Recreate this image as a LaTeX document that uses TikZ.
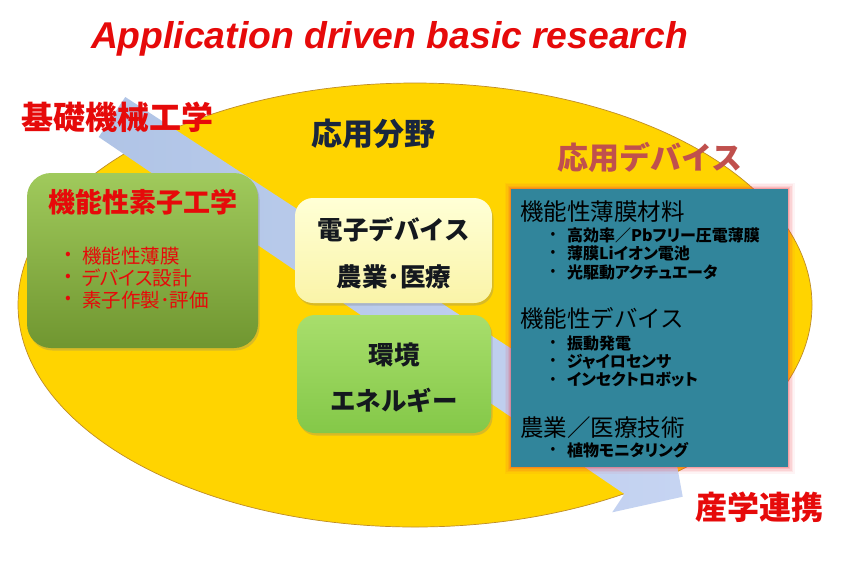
\documentclass[tikz,border=0pt]{standalone}
\usepackage{fontspec}
\usetikzlibrary{shadows}
\newfontfamily\jp{Noto Sans CJK JP}
\newfontfamily\jpp{Noto Sans CJK JP}[RawFeature=+palt]
\newfontfamily\arialf{Liberation Sans}
\definecolor{titlered}{RGB}{230,10,10}
\definecolor{navytxt}{RGB}{25,38,62}
\definecolor{devred}{RGB}{192,80,77}
\definecolor{elly}{RGB}{255,212,0}
\definecolor{ellrim}{RGB}{246,178,10}
\definecolor{ellline}{RGB}{190,140,40}
\definecolor{arrA}{RGB}{176,196,230}
\definecolor{arrB}{RGB}{198,212,242}
\definecolor{lgtop}{RGB}{160,202,92}
\definecolor{lgbot}{RGB}{112,150,48}
\definecolor{yltop}{RGB}{255,255,214}
\definecolor{ylbot}{RGB}{250,244,168}
\definecolor{gntop}{RGB}{168,222,108}
\definecolor{gnbot}{RGB}{132,200,72}
\definecolor{tealc}{RGB}{49,133,155}
\definecolor{glowc}{RGB}{240,50,60}
\definecolor{boxtxt}{RGB}{20,24,30}
\pgfdeclareradialshading{ellshade}{\pgfpoint{0bp}{0bp}}{color(0bp)=(elly); color(43bp)=(elly); color(50bp)=(ellrim); color(60bp)=(ellrim)}
\begin{document}
\begin{tikzpicture}[x=1pt,y=-1pt,
  lbl/.style={inner sep=0pt, outer sep=0pt},
  roundbox/.style={rounded corners=20pt, inner sep=0pt, draw=none,
     drop shadow={opacity=0.3, shadow xshift=1.5pt, shadow yshift=-2.5pt}},
  hdr/.style={lbl, anchor=west, font=\jp\fontsize{23.5}{26}\selectfont, text=black},
  sub/.style={lbl, anchor=west, font=\jpp\bfseries\fontsize{16}{18}\selectfont, text=black},
  dot/.style={lbl, font=\jp\fontsize{14}{16}\selectfont, text=black},
  lsub/.style={lbl, anchor=west, font=\jpp\fontsize{19.5}{21}\selectfont, text=titlered},
  ldot/.style={lbl, font=\jp\fontsize{17}{19}\selectfont, text=titlered},
  midtxt/.style={lbl, font=\jp\bfseries\fontsize{25.5}{28}\selectfont, text=boxtxt}]
\useasboundingbox (0,0) rectangle (866,574);
\fill[white] (0,0) rectangle (866,574);
% ellipse
\shade[shading=ellshade] (415,305) ellipse [x radius=397, y radius=222];
\draw[ellline, line width=0.7pt] (415,305) ellipse [x radius=397, y radius=222];
% big arrow
\shade[left color=arrA, right color=arrB]
  (125.3,97) -- (657.6,444) -- (669.8,425.7) -- (682.7,496.7) -- (612.2,512.3) -- (624.4,494) -- (98.7,137) -- cycle;
% title and labels
\node[lbl, anchor=base west, font=\arialf\bfseries\itshape\fontsize{37.3}{40}\selectfont, text=titlered] (title) at (91,48) {Application driven basic research};
\node[lbl, font=\jp\bfseries\fontsize{32}{34}\selectfont, text=titlered] (kiso) at (117.5,117) {基礎機械工学};
\node[lbl, font=\jp\bfseries\fontsize{31}{34}\selectfont, text=navytxt] (oyobunya) at (373,134) {応用分野};
\node[lbl, font=\jp\bfseries\fontsize{31}{34}\selectfont, text=devred] (oyodev) at (650,157.5) {応用デバイス};
\node[lbl, font=\jp\bfseries\fontsize{32}{34}\selectfont, text=titlered] (sangaku) at (759,507) {産学連携};
% left box
\node[roundbox, rounded corners=24pt, top color=lgtop, bottom color=lgbot, minimum width=231pt, minimum height=175pt] (lbox) at (142.5,260.5) {};
\node[lbl, font=\jp\bfseries\fontsize{27}{30}\selectfont, text=titlered] (lboxtitle) at (143,202) {機能性素子工学};
\node[ldot] (ld1) at (68,256) {•};
\node[lsub] (lt1) at (82,256) {機能性薄膜};
\node[ldot] (ld2) at (68,278) {•};
\node[lsub] (lt2) at (82,278) {デバイス設計};
\node[ldot] (ld3) at (68,300) {•};
\node[lsub] (lt3) at (82,300) {素子作製･評価};
% middle boxes
\node[roundbox, rounded corners=18pt, top color=yltop, bottom color=ylbot, minimum width=197pt, minimum height=105pt] (ybox) at (393.5,250.5) {};
\node[midtxt] (y1) at (394,230) {電子デバイス};
\node[midtxt] (y2) at (394,277) {農業･医療};
\node[roundbox, rounded corners=18pt, top color=gntop, bottom color=gnbot, minimum width=194pt, minimum height=118pt] (gbox) at (394,374) {};
\node[midtxt] (g1) at (394,355) {環境};
\node[midtxt] (g2) at (394,400) {エネルギー};
% teal box with glow
\foreach \w/\o in {13/0.05,10/0.07,7/0.1,4/0.14,2/0.2}
  \draw[glowc, line width=\w pt, opacity=\o] (511,189) rectangle (788,467);
\node[lbl, fill=tealc, minimum width=277pt, minimum height=278pt] (tbox) at (649.5,328) {};
\node[hdr] (h1) at (520,212) {機能性薄膜材料};
\node[dot] (d11) at (553,235) {•};
\node[sub] (s11) at (567,235) {高効率／Pbフリー圧電薄膜};
\node[dot] (d12) at (553,253.5) {•};
\node[sub] (s12) at (567,253.5) {薄膜Liイオン電池};
\node[dot] (d13) at (553,272) {•};
\node[sub] (s13) at (567,272) {光駆動アクチュエータ};
\node[hdr] (h2) at (520,318) {機能性デバイス};
\node[dot] (d21) at (553,343) {•};
\node[sub] (s21) at (567,343) {振動発電};
\node[dot] (d22) at (553,361.5) {•};
\node[sub] (s22) at (567,361.5) {ジャイロセンサ};
\node[dot] (d23) at (553,380) {•};
\node[sub] (s23) at (567,380) {インセクトロボット};
\node[hdr] (h3) at (520,428) {農業／医療技術};
\node[dot] (d31) at (553,450) {•};
\node[sub] (s31) at (567,450) {植物モニタリング};
\end{tikzpicture}
\end{document}
